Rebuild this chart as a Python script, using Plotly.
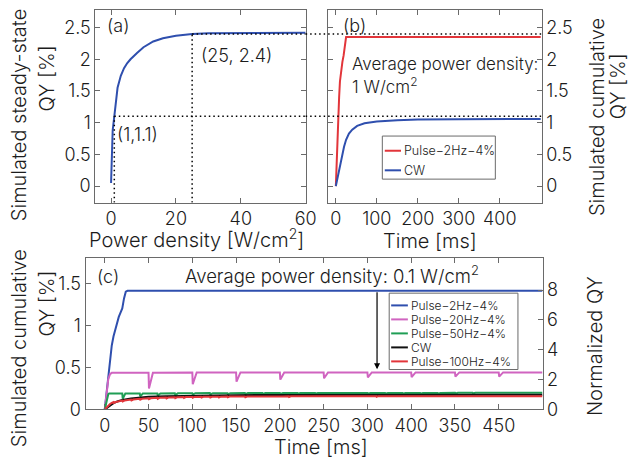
import plotly.graph_objects as go

# ---------------- data ----------------
# (a) steady-state QY versus excitation power density
power_density = [0, 0.1, 0.3, 0.5, 1, 2, 3, 4, 5, 6, 8, 10, 13, 16, 20, 25, 30, 40, 50, 60]
steady_qy = [0.05, 0.35, 0.7, 0.88, 1.1, 1.55, 1.74, 1.86, 1.94, 2.0, 2.1, 2.19, 2.28, 2.33, 2.37, 2.4, 2.41, 2.415, 2.42, 2.42]
marked_points = [(1, 1.1), (25, 2.4)]

# (b) cumulative QY at 1 W/cm^2 average
b_time_pulse = [0, 2, 4, 6, 8, 10, 13, 16, 19, 22, 25, 500]
b_qy_pulse = [0, 0.45, 0.8, 1.1, 1.4, 1.65, 1.85, 1.96, 2.06, 2.2, 2.35, 2.35]
b_time_cw = [0, 3, 6, 10, 13, 16, 20, 25, 32, 40, 52, 70, 100, 150, 200, 300, 400, 500]
b_qy_cw = [0, 0.1, 0.2, 0.3, 0.38, 0.5, 0.62, 0.73, 0.83, 0.89, 0.95, 0.99, 1.02, 1.04, 1.05, 1.055, 1.06, 1.06]

# (c) cumulative QY at 0.1 W/cm^2 average
c_time_2hz = [0, 3, 4, 6, 8, 10, 13, 16, 18, 20, 22, 24, 26, 500]
c_qy_2hz = [0, 0.3, 0.42, 0.62, 0.76, 0.87, 1.0, 1.1, 1.15, 1.2, 1.32, 1.4, 1.41, 1.41]

c_rise_t_20hz = [0, 2, 4, 6, 8]
c_rise_qy_20hz = [0, 0.2, 0.36, 0.42, 0.435]
pulse_t_20hz = [50, 100, 150, 200, 250, 300, 350, 400, 450]
top_20hz = [0.437, 0.44, 0.44, 0.44, 0.44, 0.44, 0.44, 0.44, 0.44]
dip_20hz = [0.25, 0.30, 0.33, 0.355, 0.37, 0.38, 0.385, 0.39, 0.39]

c_rise_t_50hz = [0, 1, 2, 3, 4, 5]
c_rise_qy_50hz = [0, 0.05, 0.1, 0.15, 0.18, 0.19]
pulse_t_50hz = [20, 40, 60, 80, 100, 120, 140, 160, 180, 200, 220, 240,
                260, 280, 300, 320, 340, 360, 380, 400, 420, 440, 460, 480]
top_50hz = [0.19, 0.19, 0.191, 0.192, 0.193, 0.194, 0.194, 0.195, 0.195, 0.195, 0.196, 0.196,
            0.196, 0.196, 0.197, 0.197, 0.197, 0.197, 0.197, 0.198, 0.198, 0.198, 0.198, 0.198]
dip_50hz = [0.128, 0.155, 0.165, 0.172, 0.176, 0.179, 0.181, 0.183, 0.184, 0.185, 0.186, 0.186,
            0.187, 0.187, 0.188, 0.188, 0.188, 0.188, 0.188, 0.189, 0.189, 0.189, 0.189, 0.189]

c_rise_t_100hz = [0, 2, 4, 6, 8]
c_rise_qy_100hz = [0, 0.025, 0.05, 0.065, 0.078]
pulse_t_100hz = [10, 20, 30, 40, 50, 60, 70, 80, 90, 100, 110, 120, 130, 140, 150, 160, 170,
                 180, 190, 200, 210, 220, 230, 240, 250, 260, 270, 280, 290, 300, 310, 320,
                 330, 340, 350, 360, 370, 380, 390, 400, 410, 420, 430, 440, 450, 460, 470,
                 480, 490]
top_100hz = [0.088, 0.106, 0.118, 0.127, 0.133, 0.138, 0.142, 0.145, 0.147, 0.149, 0.15, 0.151,
             0.152, 0.153, 0.153, 0.154, 0.154, 0.155, 0.155, 0.155, 0.156, 0.156, 0.156, 0.156,
             0.157, 0.157, 0.157, 0.157, 0.157, 0.157, 0.158, 0.158, 0.158, 0.158, 0.158, 0.158,
             0.158, 0.158, 0.158, 0.158, 0.158, 0.158, 0.158, 0.158, 0.158, 0.158, 0.158, 0.158,
             0.158]
dip_100hz = [0.078, 0.095, 0.107, 0.116, 0.122, 0.127, 0.131, 0.135, 0.137, 0.139, 0.141, 0.142,
             0.143, 0.144, 0.145, 0.146, 0.146, 0.147, 0.147, 0.147, 0.148, 0.148, 0.148, 0.148,
             0.149, 0.149, 0.149, 0.149, 0.149, 0.149, 0.15, 0.15, 0.15, 0.15, 0.15, 0.15,
             0.15, 0.15, 0.15, 0.15, 0.15, 0.15, 0.15, 0.15, 0.15, 0.15, 0.15, 0.15,
             0.15]

c_time_cw = [0, 3, 6, 10, 15, 20, 30, 40, 50, 70, 100, 150, 200, 300, 400, 500]
c_qy_cw = [0, 0.025, 0.05, 0.075, 0.097, 0.112, 0.13, 0.142, 0.15, 0.158, 0.165, 0.17, 0.173, 0.175, 0.176, 0.176]

c_xticks = [0, 50, 100, 150, 200, 250, 300, 350, 400, 450]
c_xticklabels = ["0", "50", "100", "150", "200", "250", "300", "400", "350", "450"]

# ---------------- styling ----------------
W, H = 640, 473
FONT = "Inter"
WEIGHT = 300
TEXT = "#1c1c1c"
FRAME = "#6a6a6a"
BLUE = "#2f4fae"
RED = "#e2353a"
PINK = "#d064c0"
GREEN = "#1f9e55"
BLACK = "#111111"
TICK_SIZE = 18
TITLE_SIZE = 20


def fx(p):
    return p / W


def fy(p):
    return 1 - p / H


def font(size):
    return dict(family=FONT, size=size, color=TEXT, weight=WEIGHT)


A_X = [fx(97), fx(311)]
TOP_Y = [fy(207), fy(10)]
B_X = [fx(334), fx(551)]
C_X = [fx(87), fx(552)]
C_Y = [fy(418.3), fy(264)]

A_XRANGE = [-4.85, 60]
AB_YRANGE = [-0.26, 2.78]
B_XRANGE = [-18.5, 502]
C_XRANGE = [-22, 500]
C_YRANGE = [0, 1.795]
C_NORM_RANGE = [0, 10.13]


def pulsed_series(rise_t, rise_qy, pulse_t, top, dip, t_end, recover):
    """Plateau-with-dips curve: each pulse drops to its dip and recovers."""
    xs, ys = list(rise_t), list(rise_qy)
    for t, hi, lo in zip(pulse_t, top, dip):
        xs += [t, t + 0.5, t + recover]
        ys += [hi, lo, hi]
    xs.append(t_end)
    ys.append(top[-1])
    return xs, ys


fig = go.Figure()

# (a)
fig.add_trace(go.Scatter(x=power_density, y=steady_qy, mode="lines",
                         line=dict(color=BLUE, width=2), xaxis="x", yaxis="y",
                         showlegend=False))

# (b)
fig.add_trace(go.Scatter(x=b_time_pulse, y=b_qy_pulse, mode="lines", name="Pulse−2Hz−4%",
                         line=dict(color=RED, width=2), xaxis="x2", yaxis="y2",
                         showlegend=False))
fig.add_trace(go.Scatter(x=b_time_cw, y=b_qy_cw, mode="lines", name="CW",
                         line=dict(color=BLUE, width=2), xaxis="x2", yaxis="y2",
                         showlegend=False))

# (c)
x20, y20 = pulsed_series(c_rise_t_20hz, c_rise_qy_20hz, pulse_t_20hz, top_20hz, dip_20hz, 500, 5)
x50, y50 = pulsed_series(c_rise_t_50hz, c_rise_qy_50hz, pulse_t_50hz, top_50hz, dip_50hz, 500, 3.5)
x100, y100 = pulsed_series(c_rise_t_100hz, c_rise_qy_100hz, pulse_t_100hz, top_100hz, dip_100hz, 500, 2.5)

c_series = [
    ("Pulse−2Hz−4%", c_time_2hz, c_qy_2hz, BLUE),
    ("Pulse−20Hz−4%", x20, y20, PINK),
    ("Pulse−50Hz−4%", x50, y50, GREEN),
    ("CW", c_time_cw, c_qy_cw, BLACK),
    ("Pulse−100Hz−4%", x100, y100, RED),
]
for name, xs, ys, col in c_series:
    fig.add_trace(go.Scatter(x=xs, y=ys, mode="lines", name=name,
                             line=dict(color=col, width=2), xaxis="x3", yaxis="y3",
                             showlegend=False))
# keeps the normalized axis active
fig.add_trace(go.Scatter(x=[None], y=[None], xaxis="x3", yaxis="y4", showlegend=False,
                         hoverinfo="skip"))


def axis(**kw):
    base = dict(showline=True, linecolor=FRAME, linewidth=1, ticks="inside", ticklen=5,
                tickcolor=FRAME, tickwidth=1, showgrid=False, zeroline=False,
                tickfont=font(TICK_SIZE))
    base.update(kw)
    return base


fig.update_layout(
    width=W, height=H, autosize=False,
    margin=dict(l=0, r=0, t=0, b=0),
    paper_bgcolor="white", plot_bgcolor="white",
    showlegend=False,
    xaxis=axis(domain=A_X, range=A_XRANGE, tickvals=[0, 20, 40, 60], anchor="y", mirror="ticks"),
    yaxis=axis(domain=TOP_Y, range=AB_YRANGE, tickvals=[0, 0.5, 1, 1.5, 2, 2.5],
               anchor="x", mirror="ticks"),
    xaxis2=axis(domain=B_X, range=B_XRANGE, tickvals=[0, 100, 200, 300, 400], anchor="y2",
                mirror="ticks"),
    yaxis2=axis(domain=TOP_Y, range=AB_YRANGE, tickvals=[0, 0.5, 1, 1.5, 2, 2.5],
                anchor="x2", side="right", mirror="ticks"),
    xaxis3=axis(domain=C_X, range=C_XRANGE, tickvals=c_xticks, ticktext=c_xticklabels,
                anchor="y3", mirror="ticks"),
    yaxis3=axis(domain=C_Y, range=C_YRANGE, tickvals=[0, 0.5, 1, 1.5], anchor="x3"),
    yaxis4=axis(range=C_NORM_RANGE, tickvals=[0, 2, 4, 6, 8], anchor="x3",
                overlaying="y3", side="right"),
)

# dotted guide lines through the marked steady-state points, continued into (b)
DOT = dict(color="black", width=1.5, dash="1.5px,3px")
for px_, py_ in marked_points:
    fig.add_shape(type="line", xref="x", yref="y", x0=px_, x1=A_XRANGE[1], y0=py_, y1=py_, line=DOT)
    fig.add_shape(type="line", xref="x", yref="y", x0=px_, x1=px_, y0=AB_YRANGE[0], y1=py_, line=DOT)
    fig.add_shape(type="line", xref="paper", yref="y", x0=A_X[1], x1=B_X[1], y0=py_, y1=py_, line=DOT)


def label(text, x, y, size=TICK_SIZE, angle=0, anchor="center"):
    fig.add_annotation(text=text, xref="paper", yref="paper", x=fx(x), y=fy(y),
                       xanchor=anchor, yanchor="middle", showarrow=False, textangle=angle,
                       font=font(size))


# panel tags and point labels
label("(a)", 107, 26, anchor="left")
label("(25, 2.4)", 202, 57, anchor="left")
label("(1,1.1)", 117, 137, anchor="left")
label("(b)", 347, 26, anchor="left")
label("Average power density:", 356, 65, size=17, anchor="left")
label("1 W/cm<sup>2</sup>", 356, 87, size=17, anchor="left")
label("(c)", 97, 282, anchor="left")
label("Average power density: 0.1 W/cm<sup>2</sup>", 338, 280, size=18.5)

# axis titles
label("Simulated steady-state", 19, 118, size=TITLE_SIZE, angle=-90)
label("QY [%]", 48, 80, size=TITLE_SIZE, angle=-90)
label("Power density [W/cm<sup>2</sup>]", 200, 244, size=TITLE_SIZE)
label("Time [ms]", 438, 246, size=TITLE_SIZE)
label("Simulated cumulative", 608, 120, size=TITLE_SIZE, angle=-90)
label("QY [%]", 629, 88, size=TITLE_SIZE, angle=-90)
label("Simulated cumulative", 20, 356, size=TITLE_SIZE, angle=-90)
label("QY [%]", 48, 310, size=TITLE_SIZE, angle=-90)
label("Time [ms]", 327, 457, size=TITLE_SIZE)
label("Normalized QY", 605, 354, size=TITLE_SIZE, angle=-90)

# arrow from the 2 Hz plateau down to the 20 Hz plateau
fig.add_annotation(x=311, y=0.478, xref="x3", yref="y3", ax=311, ay=c_qy_2hz[-1],
                   axref="x3", ayref="y3", text="", showarrow=True, arrowhead=2,
                   arrowsize=1, arrowwidth=1.2, arrowcolor="black")


# legends
def legend_box(x0, y0, x1, y1, entries, size):
    fig.add_shape(type="rect", xref="paper", yref="paper", x0=fx(x0), x1=fx(x1),
                  y0=fy(y1), y1=fy(y0), line=dict(color=FRAME, width=1), fillcolor="white",
                  layer="above")
    for name, col, yc, lx0, lx1 in entries:
        fig.add_shape(type="line", xref="paper", yref="paper", x0=fx(lx0), x1=fx(lx1),
                      y0=fy(yc), y1=fy(yc), line=dict(color=col, width=2), layer="above")
        fig.add_annotation(text=name, xref="paper", yref="paper", x=fx(lx1 + 1), y=fy(yc),
                           xanchor="left", yanchor="middle", showarrow=False,
                           font=font(size))


legend_box(389, 139, 504, 183,
           [("Pulse−2Hz−4%", RED, 154, 391.5, 408), ("CW", BLUE, 174, 391.5, 408)], 12.5)
legend_box(396, 299.5, 527, 377.5,
           [(name, col, 312 + 14.3 * i, 398, 415) for i, (name, _, _, col) in enumerate(c_series)],
           12)

fig.write_html("out.html")
